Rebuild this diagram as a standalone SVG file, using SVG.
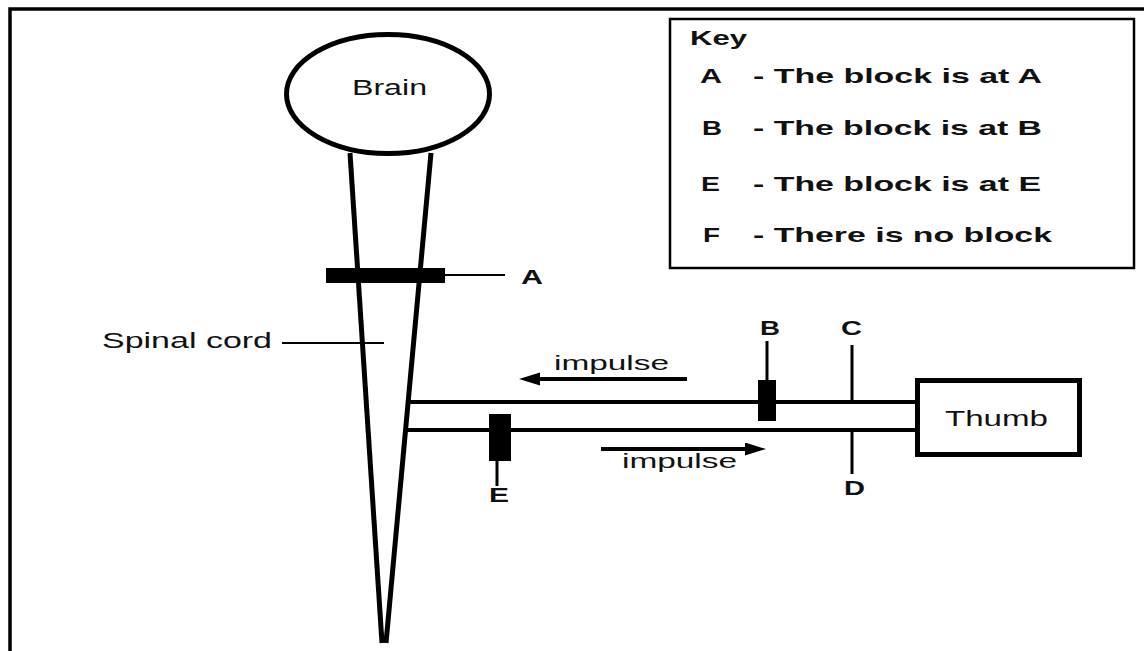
<svg xmlns="http://www.w3.org/2000/svg" width="1144" height="651" viewBox="0 0 1144 651">
  <defs>
    <style>
      .t { font-family: "Liberation Sans", Arial, sans-serif; fill: #111; }
      .reg { font-size: 22.5px; font-weight: normal; }
      .imp { font-size: 20px; font-weight: normal; }
      .bold { font-size: 20.5px; font-weight: bold; }
      .thick { stroke: #000; stroke-width: 5; fill: none; }
      .axon { stroke: #000; stroke-width: 4; fill: none; }
      .thin { stroke: #000; stroke-width: 2; fill: none; }
      .stem { stroke: #000; stroke-width: 3; fill: none; }
      .block { fill: #000; }
    </style>
    <marker id="arrow" markerUnits="userSpaceOnUse" markerWidth="22" markerHeight="14" refX="0" refY="6.5" orient="auto">
      <path d="M0,0 L21,6.5 L0,13 z" fill="#000"/>
    </marker>
  </defs>
  <rect x="0" y="0" width="1144" height="651" fill="#fff"/>

  <!-- outer frame -->
  <path d="M10,651 V9 H1144" stroke="#000" stroke-width="3.5" fill="none"/>

  <!-- connectors -->
  <g id="connectors">
    <line id="cord-left" class="thick" x1="350" y1="153" x2="382" y2="643"/>
    <line id="cord-right" class="thick" x1="431" y1="153" x2="386" y2="643"/>
    <line id="axon-upper" class="axon" x1="408" y1="402" x2="918" y2="402"/>
    <line id="axon-lower" class="axon" x1="405" y1="430" x2="918" y2="430"/>
    <line id="leader-spinal" class="thin" x1="282" y1="343" x2="384" y2="343"/>
    <line id="leader-A" class="thin" x1="445" y1="275" x2="505" y2="275"/>
    <line id="stem-B" class="stem" x1="767" y1="341" x2="767" y2="381"/>
    <line id="line-C" class="stem" x1="852" y1="345" x2="852" y2="402"/>
    <line id="line-D" class="stem" x1="852" y1="430" x2="852" y2="474"/>
    <line id="stem-E" class="stem" x1="497" y1="460" x2="497" y2="486"/>
    <line id="arrow-upper" class="axon" x1="687" y1="379" x2="540" y2="379" marker-end="url(#arrow)"/>
    <line id="arrow-lower" class="axon" x1="601" y1="449" x2="745" y2="449" marker-end="url(#arrow)"/>
  </g>

  <!-- nodes -->
  <g id="brain">
    <ellipse cx="388" cy="94" rx="101.5" ry="59.5" fill="#fff" stroke="#000" stroke-width="5"/>
    <text class="t reg" x="352" y="95" textLength="75" lengthAdjust="spacingAndGlyphs">Brain</text>
  </g>

  <g id="block-A">
    <rect class="block" x="326" y="268" width="119" height="15"/>
    <text class="t bold" x="521" y="284" textLength="22" lengthAdjust="spacingAndGlyphs">A</text>
  </g>

  <g id="spinal-cord-label">
    <text class="t reg" x="102" y="348" textLength="170" lengthAdjust="spacingAndGlyphs">Spinal cord</text>
  </g>

  <g id="block-B">
    <rect class="block" x="758" y="380" width="18" height="41"/>
    <text class="t bold" x="760" y="335" textLength="20" lengthAdjust="spacingAndGlyphs">B</text>
  </g>

  <g id="point-C">
    <text class="t bold" x="841" y="335" textLength="21" lengthAdjust="spacingAndGlyphs">C</text>
  </g>

  <g id="point-D">
    <text class="t bold" x="844" y="495" textLength="21" lengthAdjust="spacingAndGlyphs">D</text>
  </g>

  <g id="block-E">
    <rect class="block" x="489" y="414" width="22" height="47"/>
    <text class="t bold" x="489" y="502" textLength="20" lengthAdjust="spacingAndGlyphs">E</text>
  </g>

  <g id="impulse-labels">
    <text class="t imp" x="554" y="370" textLength="115" lengthAdjust="spacingAndGlyphs">impulse</text>
    <text class="t imp" x="622" y="468" textLength="115" lengthAdjust="spacingAndGlyphs">impulse</text>
  </g>

  <g id="thumb">
    <rect x="917.5" y="380.5" width="162" height="74" fill="#fff" stroke="#000" stroke-width="5"/>
    <text class="t reg" x="945" y="426" textLength="103" lengthAdjust="spacingAndGlyphs">Thumb</text>
  </g>

  <g id="key">
    <rect x="670" y="19" width="464" height="249" fill="#fff" stroke="#000" stroke-width="2.5"/>
    <text class="t bold" x="690" y="45" textLength="57" lengthAdjust="spacingAndGlyphs">Key</text>
    <text class="t bold" x="700" y="83" textLength="22" lengthAdjust="spacingAndGlyphs">A</text>
    <text class="t bold" x="753" y="83" textLength="289" lengthAdjust="spacingAndGlyphs">- The block is at A</text>
    <text class="t bold" x="702" y="135" textLength="20" lengthAdjust="spacingAndGlyphs">B</text>
    <text class="t bold" x="753" y="135" textLength="289" lengthAdjust="spacingAndGlyphs">- The block is at B</text>
    <text class="t bold" x="701" y="191" textLength="19" lengthAdjust="spacingAndGlyphs">E</text>
    <text class="t bold" x="753" y="191" textLength="288" lengthAdjust="spacingAndGlyphs">- The block is at E</text>
    <text class="t bold" x="703" y="242" textLength="17" lengthAdjust="spacingAndGlyphs">F</text>
    <text class="t bold" x="753" y="242" textLength="299" lengthAdjust="spacingAndGlyphs">- There is no block</text>
  </g>
</svg>
